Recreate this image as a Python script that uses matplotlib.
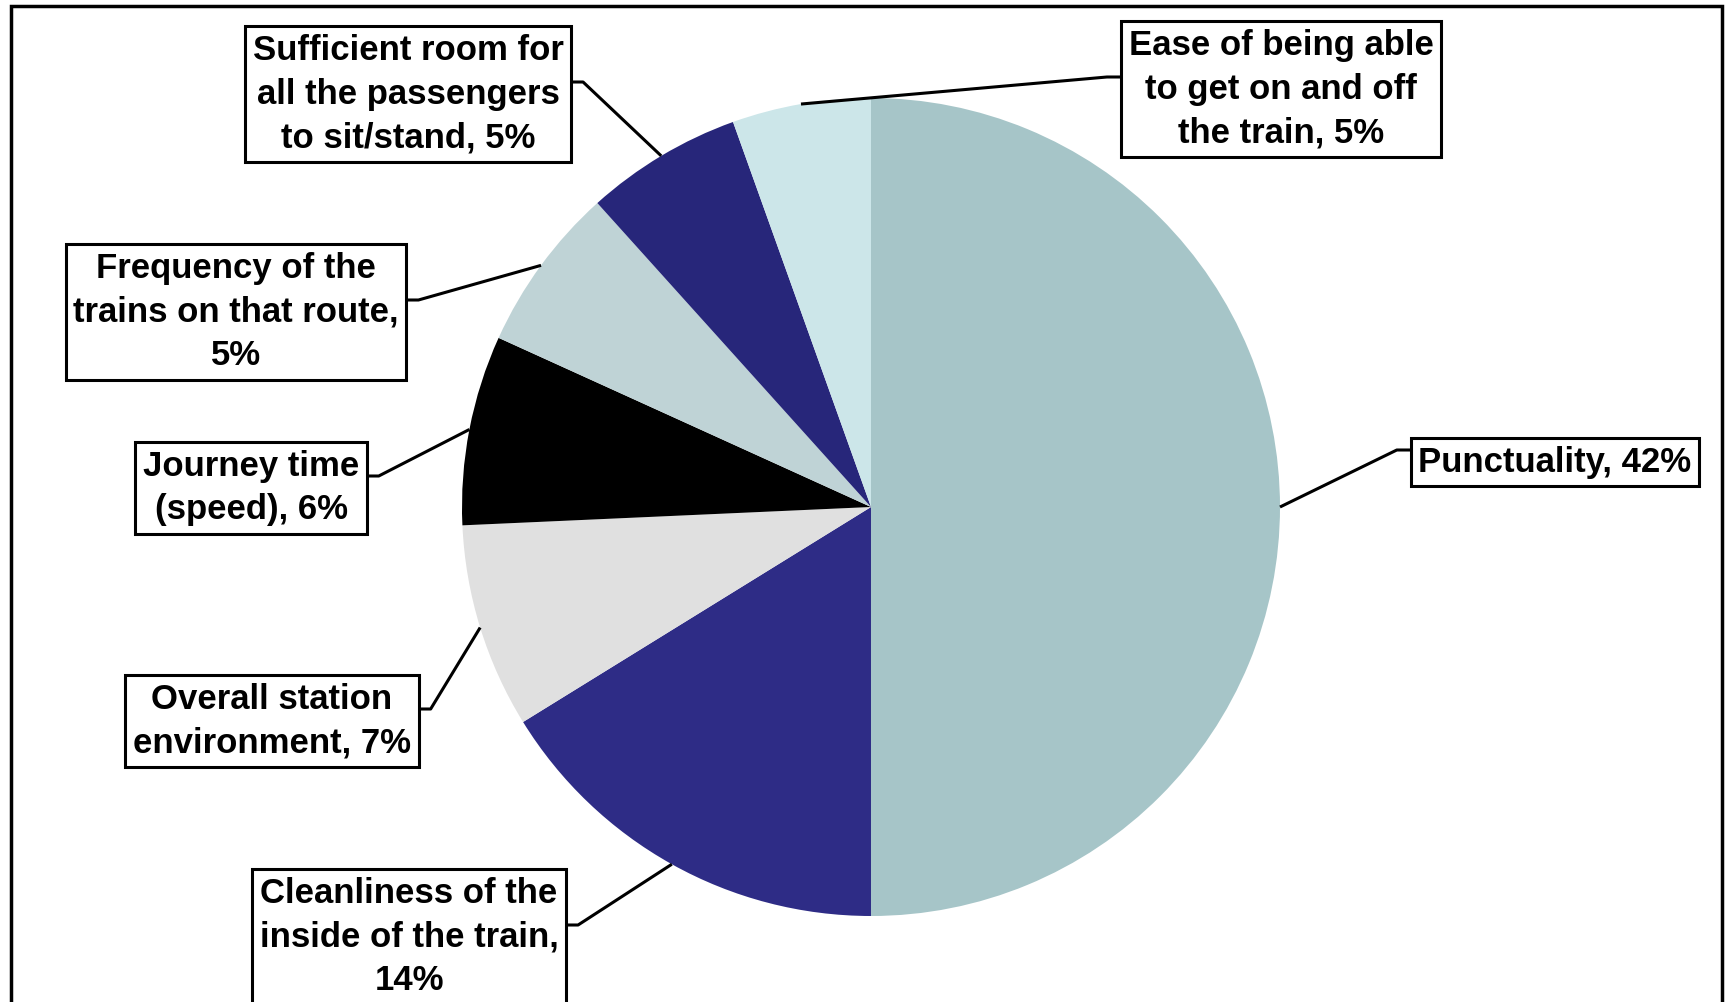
import matplotlib.pyplot as plt
from matplotlib.patches import Rectangle
import numpy as np

plt.rcParams['font.family'] = ['Liberation Sans', 'DejaVu Sans']

labels = [
    "Punctuality, 42%",
    "Cleanliness of the\ninside of the train,\n14%",
    "Overall station\nenvironment, 7%",
    "Journey time\n(speed), 6%",
    "Frequency of the\ntrains on that route,\n5%",
    "Sufficient room for\nall the passengers\nto sit/stand, 5%",
    "Ease of being able\nto get on and off\nthe train, 5%",
]
# slice sizes (labels show rounded shares)
values = [42.0, 13.6, 6.8, 6.3, 5.5, 5.2, 4.6]
colors = ["#A6C5C8", "#2E2C86", "#E0E0E0", "#000000", "#BFD3D6", "#27267A", "#CCE6E9"]

# label box centres in image pixels (x, y from top)
label_pos = [(1555, 462), (409, 937), (272, 721), (251, 488),
             (236, 312), (408, 94), (1281, 89)]

W, H = 1735, 1002
fig = plt.figure(figsize=(W / 100, H / 100), dpi=100)
ax = fig.add_axes([0, 0, 1, 1])

cx, cy, r = 871, H - 507, 409
wedges, _ = ax.pie(values, colors=colors, startangle=90, counterclock=False,
                   center=(cx, cy), radius=r, frame=True,
                   wedgeprops=dict(linewidth=0))
ax.set_xlim(0, W)
ax.set_ylim(0, H)
ax.set_aspect('equal')
ax.set_axis_off()

texts = []
for lab, (x, y) in zip(labels, label_pos):
    t = ax.text(x, H - y, lab, ha='center', va='center', multialignment='center',
                fontsize=25, fontweight='bold', linespacing=1.42, zorder=5,
                bbox=dict(boxstyle='square,pad=0.22', fc='white', ec='black', lw=2.2))
    texts.append(t)

fig.canvas.draw()
renderer = fig.canvas.get_renderer()
inv = ax.transData.inverted()

for w, t in zip(wedges, texts):
    mid = np.deg2rad((w.theta1 + w.theta2) / 2)
    px, py = cx + r * np.cos(mid), cy + r * np.sin(mid)
    bb = t.get_bbox_patch().get_window_extent(renderer)
    (x0, y0), (x1, y1) = inv.transform([[bb.x0, bb.y0], [bb.x1, bb.y1]])
    yk = (y0 + y1) / 2 + 12
    if (x0 + x1) / 2 > px:
        ex, kx = x0, x0 - 14
    else:
        ex, kx = x1, x1 + 12
    ax.plot([px, kx, ex], [py, yk, yk], color='black', lw=2.2, zorder=4,
            solid_capstyle='butt')

fig.patches.append(Rectangle((11 / W, -0.05), (1722 - 11) / W, 1.05 - 6 / H,
                             transform=fig.transFigure, fill=False,
                             ec='black', lw=2.5))

fig.savefig("out.png", dpi=100)
